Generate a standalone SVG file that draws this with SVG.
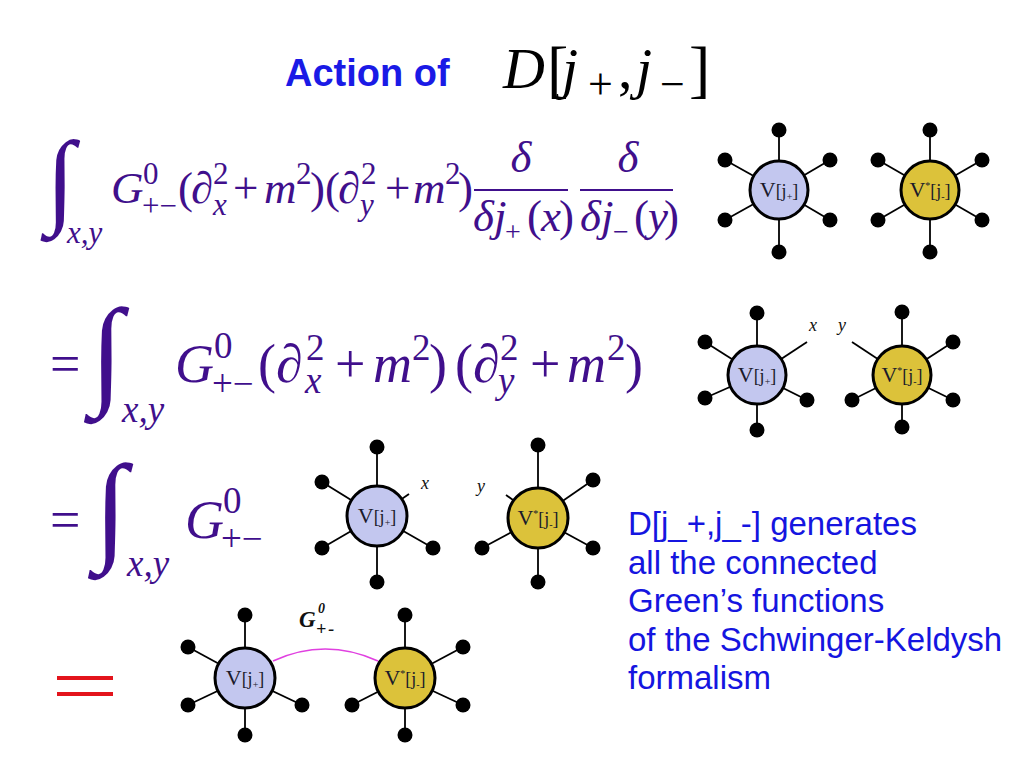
<svg xmlns="http://www.w3.org/2000/svg" width="1024" height="768" viewBox="0 0 1024 768">
<style>
.m{font-family:"Liberation Serif","DejaVu Serif",serif;fill:#400f8c}
.i{font-style:italic}
.b1{font-size:45px}.s1{font-size:31px}.d1{font-size:28px}
.b2{font-size:54px}.s2{font-size:37px}
.leg{stroke:#000;stroke-width:1.8}
.dot{fill:#000}
.vb{fill:#c3c7ef;stroke:#000;stroke-width:3}
.vy{fill:#dcc23a;stroke:#000;stroke-width:3}
.vl{font-family:"Liberation Serif",serif;font-size:22px;fill:#1a1a2a;text-anchor:middle}
.vs{font-size:18px}
.vt{font-size:10px}
.lab{font-family:"Liberation Serif",serif;font-style:italic;font-size:18px;fill:#111}
.gl{font-family:"Liberation Serif",serif;font-style:italic;font-weight:bold;fill:#111}
.txt{font-family:"Liberation Sans",Arial,sans-serif;font-size:33px;fill:#1515e0}
.frac{stroke:#400f8c;stroke-width:2}
</style>
<rect width="1024" height="768" fill="#fff"/>

<g id="title">
<text x="285" y="86" font-family="Liberation Sans,Arial,sans-serif" font-weight="bold" font-size="38" fill="#1a1ae6">Action of</text>
<g font-family="Liberation Serif,serif" fill="#000">
<text x="503" y="88" font-size="58" font-style="italic">D</text>
<text x="547" y="90" font-size="64">[</text>
<text x="562" y="88" font-size="58" font-style="italic">j</text>
<text x="588" y="99" font-size="44">+</text>
<text x="618" y="88" font-size="58">,</text>
<text x="636" y="88" font-size="58" font-style="italic">j</text>
<text x="660" y="99" font-size="44">−</text>
<text x="689" y="90" font-size="64">]</text>
</g>
</g>

<g id="eq1">
<text class="m" x="46" y="214" font-size="105">∫</text>
<text class="m i s1" x="67" y="243">x,y</text>
<text class="m i b1" x="111" y="203">G</text>
<text class="m s1" x="143" y="184">0</text>
<text class="m s1" x="142" y="216">+−</text>
<text class="m b1" x="178" y="203">(</text>
<text class="m b1" x="191" y="203">∂</text>
<text class="m s1" x="213" y="184">2</text>
<text class="m i s1" x="213" y="215">x</text>
<text class="m b1" x="233" y="203">+</text>
<text class="m i b1" x="264" y="203">m</text>
<text class="m s1" x="296" y="184">2</text>
<text class="m b1" x="310" y="203">)</text>
<text class="m b1" x="325" y="203">(</text>
<text class="m b1" x="338" y="203">∂</text>
<text class="m s1" x="361" y="184">2</text>
<text class="m i s1" x="360" y="215">y</text>
<text class="m b1" x="385" y="203">+</text>
<text class="m i b1" x="413" y="203">m</text>
<text class="m s1" x="445" y="184">2</text>
<text class="m b1" x="458" y="203">)</text>
<line class="frac" x1="474" y1="190" x2="568" y2="190"/>
<text class="m i b1" x="521" y="172" text-anchor="middle">δ</text>
<text class="m i b1" x="473" y="231">δ</text>
<text class="m i b1" x="494" y="231">j</text>
<text class="m d1" x="505" y="241">+</text>
<text class="m b1" x="527" y="231">(</text>
<text class="m i b1" x="541" y="231">x</text>
<text class="m b1" x="559" y="231">)</text>
<line class="frac" x1="580" y1="190" x2="673" y2="190"/>
<text class="m i b1" x="628" y="172" text-anchor="middle">δ</text>
<text class="m i b1" x="580" y="231">δ</text>
<text class="m i b1" x="601" y="231">j</text>
<text class="m d1" x="613" y="241">−</text>
<text class="m b1" x="634" y="231">(</text>
<text class="m i b1" x="648" y="231">y</text>
<text class="m b1" x="664" y="231">)</text>
</g>

<g id="eq2">
<text class="m b2" x="50" y="382">=</text>
<text class="m" x="90" y="392" font-size="120">∫</text>
<text class="m i s2" x="122" y="422">x,y</text>
<text class="m i b2" x="175" y="382">G</text>
<text class="m s2" x="214" y="358">0</text>
<text class="m s2" x="212" y="396">+−</text>
<text class="m b2" x="258" y="382">(</text>
<text class="m b2" x="276" y="382">∂</text>
<text class="m s2" x="306" y="360">2</text>
<text class="m i s2" x="305" y="393">x</text>
<text class="m b2" x="335" y="382">+</text>
<text class="m i b2" x="373" y="382">m</text>
<text class="m s2" x="412" y="360">2</text>
<text class="m b2" x="429" y="382">)</text>
<text class="m b2" x="455" y="382">(</text>
<text class="m b2" x="473" y="382">∂</text>
<text class="m s2" x="500" y="360">2</text>
<text class="m i s2" x="498" y="393">y</text>
<text class="m b2" x="530" y="382">+</text>
<text class="m i b2" x="567" y="382">m</text>
<text class="m s2" x="607" y="360">2</text>
<text class="m b2" x="625" y="382">)</text>
</g>

<g id="eq3">
<text class="m b2" x="50" y="538">=</text>
<text class="m" x="94" y="548" font-size="120">∫</text>
<text class="m i s2" x="127" y="576">x,y</text>
<text class="m i b2" x="185" y="538">G</text>
<text class="m s2" x="223" y="513">0</text>
<text class="m s2" x="221" y="551">+−</text>
</g>

<g id="red-equals" fill="#e3141c">
<rect x="57" y="676" width="56" height="4"/>
<rect x="57" y="692" width="56" height="4"/>
</g>

<!-- Row 1 -->
<g id="r1-vplus">
<line class="leg" x1="779" y1="190" x2="779" y2="130"/><line class="leg" x1="779" y1="190" x2="779" y2="252"/>
<line class="leg" x1="779" y1="190" x2="725" y2="160"/><line class="leg" x1="779" y1="190" x2="725" y2="220"/>
<line class="leg" x1="779" y1="190" x2="830" y2="160"/><line class="leg" x1="779" y1="190" x2="830" y2="220"/>
<circle class="dot" cx="779" cy="130" r="7.5"/><circle class="dot" cx="779" cy="252" r="7.5"/>
<circle class="dot" cx="725" cy="160" r="7.5"/><circle class="dot" cx="725" cy="220" r="7.5"/>
<circle class="dot" cx="830" cy="160" r="7.5"/><circle class="dot" cx="830" cy="220" r="7.5"/>
<circle class="vb" cx="779" cy="190" r="29"/>
<text class="vl" x="779" y="197">V<tspan class="vs">[j</tspan><tspan class="vt" dy="3">+</tspan><tspan class="vs" dy="-3">]</tspan></text>
</g>
<g id="r1-vstar">
<line class="leg" x1="930" y1="190" x2="930" y2="130"/><line class="leg" x1="930" y1="190" x2="930" y2="252"/>
<line class="leg" x1="930" y1="190" x2="878" y2="160"/><line class="leg" x1="930" y1="190" x2="878" y2="220"/>
<line class="leg" x1="930" y1="190" x2="982" y2="160"/><line class="leg" x1="930" y1="190" x2="982" y2="220"/>
<circle class="dot" cx="930" cy="130" r="7.5"/><circle class="dot" cx="930" cy="252" r="7.5"/>
<circle class="dot" cx="878" cy="160" r="7.5"/><circle class="dot" cx="878" cy="220" r="7.5"/>
<circle class="dot" cx="982" cy="160" r="7.5"/><circle class="dot" cx="982" cy="220" r="7.5"/>
<circle class="vy" cx="930" cy="190" r="29"/>
<text class="vl" x="930" y="197">V<tspan class="vt" dy="-8">*</tspan><tspan class="vs" dy="8">[j</tspan><tspan class="vt" dy="3">-</tspan><tspan class="vs" dy="-3">]</tspan></text>
</g>

<!-- Row 2 -->
<g id="r2-vplus">
<line class="leg" x1="757" y1="375" x2="757" y2="313"/><line class="leg" x1="757" y1="375" x2="757" y2="430"/>
<line class="leg" x1="757" y1="375" x2="705" y2="342"/><line class="leg" x1="757" y1="375" x2="705" y2="398"/>
<line class="leg" x1="757" y1="375" x2="807" y2="342"/><line class="leg" x1="757" y1="375" x2="807" y2="400"/>
<circle class="dot" cx="757" cy="313" r="7.5"/><circle class="dot" cx="757" cy="430" r="7.5"/>
<circle class="dot" cx="705" cy="342" r="7.5"/><circle class="dot" cx="705" cy="398" r="7.5"/>
<circle class="dot" cx="807" cy="400" r="7.5"/>
<circle class="vb" cx="757" cy="375" r="29"/>
<text class="vl" x="757" y="382">V<tspan class="vs">[j</tspan><tspan class="vt" dy="3">+</tspan><tspan class="vs" dy="-3">]</tspan></text>
<text class="lab" x="809" y="331">x</text>
</g>
<g id="r2-vstar">
<line class="leg" x1="902" y1="375" x2="902" y2="312"/><line class="leg" x1="902" y1="375" x2="902" y2="427"/>
<line class="leg" x1="902" y1="375" x2="852" y2="342"/><line class="leg" x1="902" y1="375" x2="852" y2="400"/>
<line class="leg" x1="902" y1="375" x2="953" y2="342"/><line class="leg" x1="902" y1="375" x2="953" y2="400"/>
<circle class="dot" cx="902" cy="312" r="7.5"/><circle class="dot" cx="902" cy="427" r="7.5"/>
<circle class="dot" cx="852" cy="400" r="7.5"/>
<circle class="dot" cx="953" cy="342" r="7.5"/><circle class="dot" cx="953" cy="400" r="7.5"/>
<circle class="vy" cx="902" cy="375" r="29"/>
<text class="vl" x="902" y="382">V<tspan class="vt" dy="-8">*</tspan><tspan class="vs" dy="8">[j</tspan><tspan class="vt" dy="3">-</tspan><tspan class="vs" dy="-3">]</tspan></text>
<text class="lab" x="838" y="331">y</text>
</g>

<!-- Row 3 -->
<g id="r3-vplus">
<line class="leg" x1="377" y1="516" x2="377" y2="447"/><line class="leg" x1="377" y1="516" x2="377" y2="582"/>
<line class="leg" x1="377" y1="516" x2="322" y2="482"/><line class="leg" x1="377" y1="516" x2="322" y2="548"/>
<line class="leg" x1="377" y1="516" x2="409" y2="494"/><line class="leg" x1="377" y1="516" x2="433" y2="548"/>
<circle class="dot" cx="377" cy="447" r="7.5"/><circle class="dot" cx="377" cy="582" r="7.5"/>
<circle class="dot" cx="322" cy="482" r="7.5"/><circle class="dot" cx="322" cy="548" r="7.5"/>
<circle class="dot" cx="433" cy="548" r="7.5"/>
<circle class="vb" cx="377" cy="516" r="30"/>
<text class="vl" x="377" y="523">V<tspan class="vs">[j</tspan><tspan class="vt" dy="3">+</tspan><tspan class="vs" dy="-3">]</tspan></text>
<text class="lab" x="421" y="489">x</text>
</g>
<g id="r3-vstar">
<line class="leg" x1="538" y1="518" x2="538" y2="445"/><line class="leg" x1="538" y1="518" x2="538" y2="582"/>
<line class="leg" x1="538" y1="518" x2="506" y2="495"/><line class="leg" x1="538" y1="518" x2="482" y2="548"/>
<line class="leg" x1="538" y1="518" x2="593" y2="480"/><line class="leg" x1="538" y1="518" x2="593" y2="548"/>
<circle class="dot" cx="538" cy="445" r="7.5"/><circle class="dot" cx="538" cy="582" r="7.5"/>
<circle class="dot" cx="482" cy="548" r="7.5"/>
<circle class="dot" cx="593" cy="480" r="7.5"/><circle class="dot" cx="593" cy="548" r="7.5"/>
<circle class="vy" cx="538" cy="518" r="30"/>
<text class="vl" x="538" y="525">V<tspan class="vt" dy="-8">*</tspan><tspan class="vs" dy="8">[j</tspan><tspan class="vt" dy="3">-</tspan><tspan class="vs" dy="-3">]</tspan></text>
<text class="lab" x="477" y="492">y</text>
</g>

<!-- Row 4 -->
<g id="r4-vplus">
<line class="leg" x1="245" y1="678" x2="245" y2="615"/><line class="leg" x1="245" y1="678" x2="245" y2="735"/>
<line class="leg" x1="245" y1="678" x2="188" y2="647"/><line class="leg" x1="245" y1="678" x2="188" y2="705"/>
<line class="leg" x1="245" y1="678" x2="302" y2="705"/>
<circle class="dot" cx="245" cy="615" r="7.5"/><circle class="dot" cx="245" cy="735" r="7.5"/>
<circle class="dot" cx="188" cy="647" r="7.5"/><circle class="dot" cx="188" cy="705" r="7.5"/>
<circle class="dot" cx="302" cy="705" r="7.5"/>
<circle class="vb" cx="245" cy="678" r="30"/>
<text class="vl" x="245" y="685">V<tspan class="vs">[j</tspan><tspan class="vt" dy="3">+</tspan><tspan class="vs" dy="-3">]</tspan></text>
</g>
<g id="r4-vstar">
<line class="leg" x1="405" y1="678" x2="405" y2="615"/><line class="leg" x1="405" y1="678" x2="405" y2="735"/>
<line class="leg" x1="405" y1="678" x2="352" y2="705"/>
<line class="leg" x1="405" y1="678" x2="463" y2="647"/><line class="leg" x1="405" y1="678" x2="463" y2="705"/>
<circle class="dot" cx="405" cy="615" r="7.5"/><circle class="dot" cx="405" cy="735" r="7.5"/>
<circle class="dot" cx="352" cy="705" r="7.5"/>
<circle class="dot" cx="463" cy="647" r="7.5"/><circle class="dot" cx="463" cy="705" r="7.5"/>
<circle class="vy" cx="405" cy="678" r="30"/>
<text class="vl" x="405" y="685">V<tspan class="vt" dy="-8">*</tspan><tspan class="vs" dy="8">[j</tspan><tspan class="vt" dy="3">-</tspan><tspan class="vs" dy="-3">]</tspan></text>
</g>

<g id="connectors">
<path d="M273,661 Q325,637 378,661" fill="none" stroke="#e040e0" stroke-width="1.6"/>
<text class="gl" x="299" y="627" font-size="23">G</text>
<text class="gl" x="318" y="613" font-size="14">0</text>
<text class="gl" x="316" y="635" font-size="18" letter-spacing="2">+-</text>
</g>

<g id="caption" class="txt">
<text x="628" y="535">D[j_+,j_-] generates</text>
<text x="628" y="573.5">all the connected</text>
<text x="628" y="612">Green’s functions</text>
<text x="628" y="650.5">of the Schwinger-Keldysh</text>
<text x="628" y="689">formalism</text>
</g>
</svg>
